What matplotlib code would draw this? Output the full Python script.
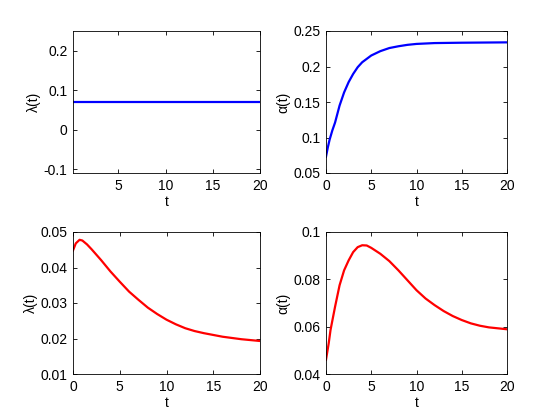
import matplotlib
matplotlib.use("Agg")
import matplotlib.pyplot as plt

plt.rcParams['font.family'] = ['Liberation Sans', 'DejaVu Sans']
plt.rcParams['font.size'] = 10

# top-left: lambda(t), constant
t_const = [0.2, 20]
lam_const = [0.07, 0.07]

# top-right: alpha(t), saturating rise
t_alpha1 = [0, 0.2, 0.4, 0.7, 1, 1.5, 2, 2.5, 3, 3.5, 4, 5, 6, 7, 8, 9, 10, 12, 15, 20]
alpha1 = [0.073, 0.086, 0.097, 0.110, 0.121, 0.145, 0.1635, 0.178, 0.1895, 0.199,
          0.206, 0.2155, 0.2216, 0.226, 0.2285, 0.2305, 0.2318, 0.233, 0.2335, 0.234]

# bottom-left: lambda(t), early peak then decay
t_lam2 = [0, 0.3, 0.7, 1, 1.5, 2, 3, 4, 5, 6, 7, 8, 9, 10, 11, 12, 13, 14, 16, 18, 20]
lam2 = [0.0448, 0.0468, 0.0478, 0.0476, 0.0465, 0.0451, 0.0421, 0.0389, 0.0360,
        0.0332, 0.0309, 0.0287, 0.0269, 0.0253, 0.0240, 0.0229, 0.0221, 0.0215,
        0.0205, 0.0198, 0.0193]

# bottom-right: alpha(t), hump
t_alpha2 = [0, 0.3, 0.5, 1, 1.5, 2, 2.5, 3, 3.5, 4, 4.5, 5, 6, 7, 8, 9, 10, 11, 12,
            13, 14, 15, 16, 17, 18, 19, 20]
alpha2 = [0.046, 0.053, 0.0586, 0.0684, 0.0775, 0.0838, 0.088, 0.0915, 0.0936, 0.0944,
          0.0943, 0.0933, 0.0908, 0.0877, 0.0838, 0.0796, 0.0754, 0.0719, 0.0691,
          0.0666, 0.0645, 0.0628, 0.0614, 0.0604, 0.0597, 0.0593, 0.0589]

W, H = 560, 420
fig = plt.figure(figsize=(W / 100, H / 100), dpi=100)


def box(x0, x1, y0, y1):
    # pixel box (from top-left) -> figure fraction
    return [x0 / W, 1 - y1 / H, (x1 - x0) / W, (y1 - y0) / H]


def style(ax):
    ax.tick_params(direction='in', length=3, width=0.6, top=True, right=True,
                   labelsize=10, pad=4)
    for s in ax.spines.values():
        s.set_linewidth(0.6)
    ax.set_xlabel('t', labelpad=2)


ax1 = fig.add_axes(box(73, 260, 31, 173))
ax1.plot(t_const, lam_const, color='blue', lw=1.6)
ax1.set_xlim(0.2, 20)
ax1.set_ylim(-0.11, 0.25)
ax1.set_xticks([5, 10, 15, 20])
ax1.set_yticks([-0.1, 0, 0.1, 0.2])
ax1.set_yticklabels(['-0.1', '0', '0.1', '0.2'])
ax1.set_ylabel('λ(t)', labelpad=2)
style(ax1)

ax2 = fig.add_axes(box(326, 507, 31, 173))
ax2.plot(t_alpha1, alpha1, color='blue', lw=1.6)
ax2.set_xlim(0, 20)
ax2.set_ylim(0.05, 0.25)
ax2.set_xticks([0, 5, 10, 15, 20])
ax2.set_yticks([0.05, 0.1, 0.15, 0.2, 0.25])
ax2.set_yticklabels(['0.05', '0.1', '0.15', '0.2', '0.25'])
ax2.set_ylabel('α(t)', labelpad=2)
style(ax2)

ax3 = fig.add_axes(box(73, 260, 232, 374))
ax3.plot(t_lam2, lam2, color='red', lw=1.6)
ax3.set_xlim(0, 20)
ax3.set_ylim(0.01, 0.05)
ax3.set_xticks([0, 5, 10, 15, 20])
ax3.set_yticks([0.01, 0.02, 0.03, 0.04, 0.05])
ax3.set_yticklabels(['0.01', '0.02', '0.03', '0.04', '0.05'])
ax3.set_ylabel('λ(t)', labelpad=2)
style(ax3)

ax4 = fig.add_axes(box(326, 507, 232, 374))
ax4.plot(t_alpha2, alpha2, color='red', lw=1.6)
ax4.set_xlim(0, 20)
ax4.set_ylim(0.04, 0.1)
ax4.set_xticks([0, 5, 10, 15, 20])
ax4.set_yticks([0.04, 0.06, 0.08, 0.1])
ax4.set_yticklabels(['0.04', '0.06', '0.08', '0.1'])
ax4.set_ylabel('α(t)', labelpad=2)
style(ax4)

fig.savefig('out.png', dpi=100)
